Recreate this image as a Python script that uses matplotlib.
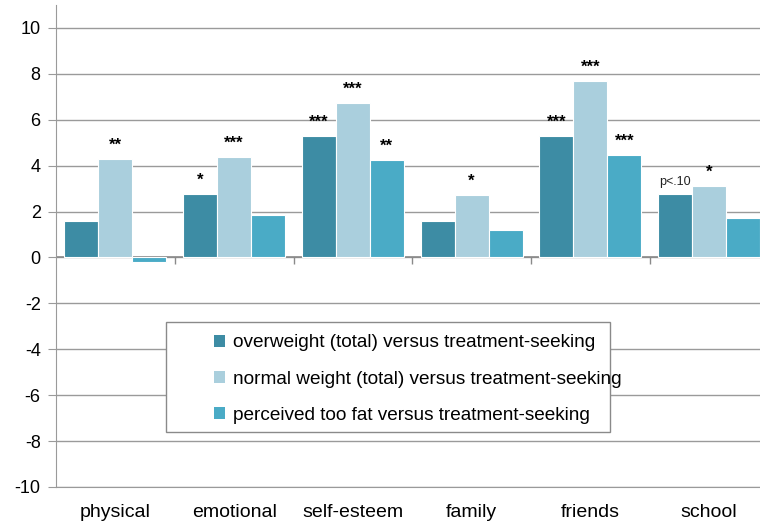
import numpy as np
import matplotlib
matplotlib.use("Agg")
import matplotlib.pyplot as plt
from matplotlib.patches import Rectangle, Patch

plt.rcParams['font.family'] = ['Liberation Sans', 'DejaVu Sans']
plt.rcParams['axes.unicode_minus'] = False

# data
categories = ['physical', 'emotional', 'self-esteem', 'family', 'friends', 'school']
overweight = [1.57, 2.75, 5.28, 1.59, 5.28, 2.78]
normal_weight = [4.27, 4.37, 6.73, 2.72, 7.68, 3.10]
too_fat = [-0.20, 1.87, 4.23, 1.19, 4.45, 1.73]
series_names = ['overweight (total) versus treatment-seeking',
                'normal weight (total) versus treatment-seeking',
                'perceived too fat versus treatment-seeking']
# significance marks per series, per category
sig_overweight = ['', '*', '***', '', '***', 'p<.10']
sig_normal = ['**', '***', '***', '*', '***', '*']
sig_too_fat = ['', '', '**', '', '***', '']

colors = ['#3d8ca4', '#aacfdd', '#4aabc6']

fig = plt.figure(figsize=(7.6, 5.25), dpi=100)
ax = fig.add_axes([0.0737, 0.0724, 0.9375, 0.918])

x = np.arange(len(categories))
w = 0.286
series = [overweight, normal_weight, too_fat]
sigs = [sig_overweight, sig_normal, sig_too_fat]
for i, (vals, sg) in enumerate(zip(series, sigs)):
    pos = x + (i - 1) * w
    ax.bar(pos, vals, width=w, color=colors[i], edgecolor='white',
           linewidth=0.8, zorder=3)
    for px, v, s in zip(pos, vals, sg):
        if not s:
            continue
        if s.startswith('p'):
            ax.text(px, v + 0.25, s, ha='center', va='bottom', fontsize=9,
                    color='#222222', zorder=4)
        else:
            ax.text(px, v + 0.62, s, ha='center', va='center', fontsize=12,
                    fontweight='bold', color='black', zorder=4)

ax.set_xlim(-0.5, len(categories) - 0.5)
ax.set_ylim(-10, 11)
ax.set_yticks(np.arange(-10, 11, 2))
ax.yaxis.grid(True, color='#9a9a9a', linewidth=1.0, zorder=0)
ax.set_axisbelow(True)
ax.tick_params(axis='y', length=6, color='#9a9a9a', labelsize=13, pad=5)
ax.set_xticks(x)
ax.set_xticklabels(categories, fontsize=14)
ax.tick_params(axis='x', length=0, pad=12)

for side in ['top', 'right']:
    ax.spines[side].set_visible(False)
ax.spines['left'].set_color('#9a9a9a')
ax.spines['bottom'].set_color('#9a9a9a')

# zero line with category separators
ax.axhline(0, color='#8a8a8a', linewidth=1.2, zorder=2)
bounds = np.arange(0.5, len(categories) - 0.5, 1.0)
ax.vlines(bounds, -0.27, 0, color='#8a8a8a', linewidth=1.0, zorder=2)

# legend with its own frame
frame = Rectangle((0.154, 0.114), 0.624, 0.228, transform=ax.transAxes,
                  facecolor='white', edgecolor='#8a8a8a', linewidth=1.0, zorder=5)
ax.add_patch(frame)
handles = [Patch(facecolor=c, edgecolor='none') for c in colors]
leg = ax.legend(handles, series_names, loc='upper left',
                bbox_to_anchor=(0.2, 0.348), frameon=False, fontsize=13.7,
                handlelength=0.6, handleheight=0.6, handletextpad=0.4,
                labelspacing=1.0, borderpad=0.3)
leg.set_zorder(6)

fig.savefig('out.png', dpi=100)
